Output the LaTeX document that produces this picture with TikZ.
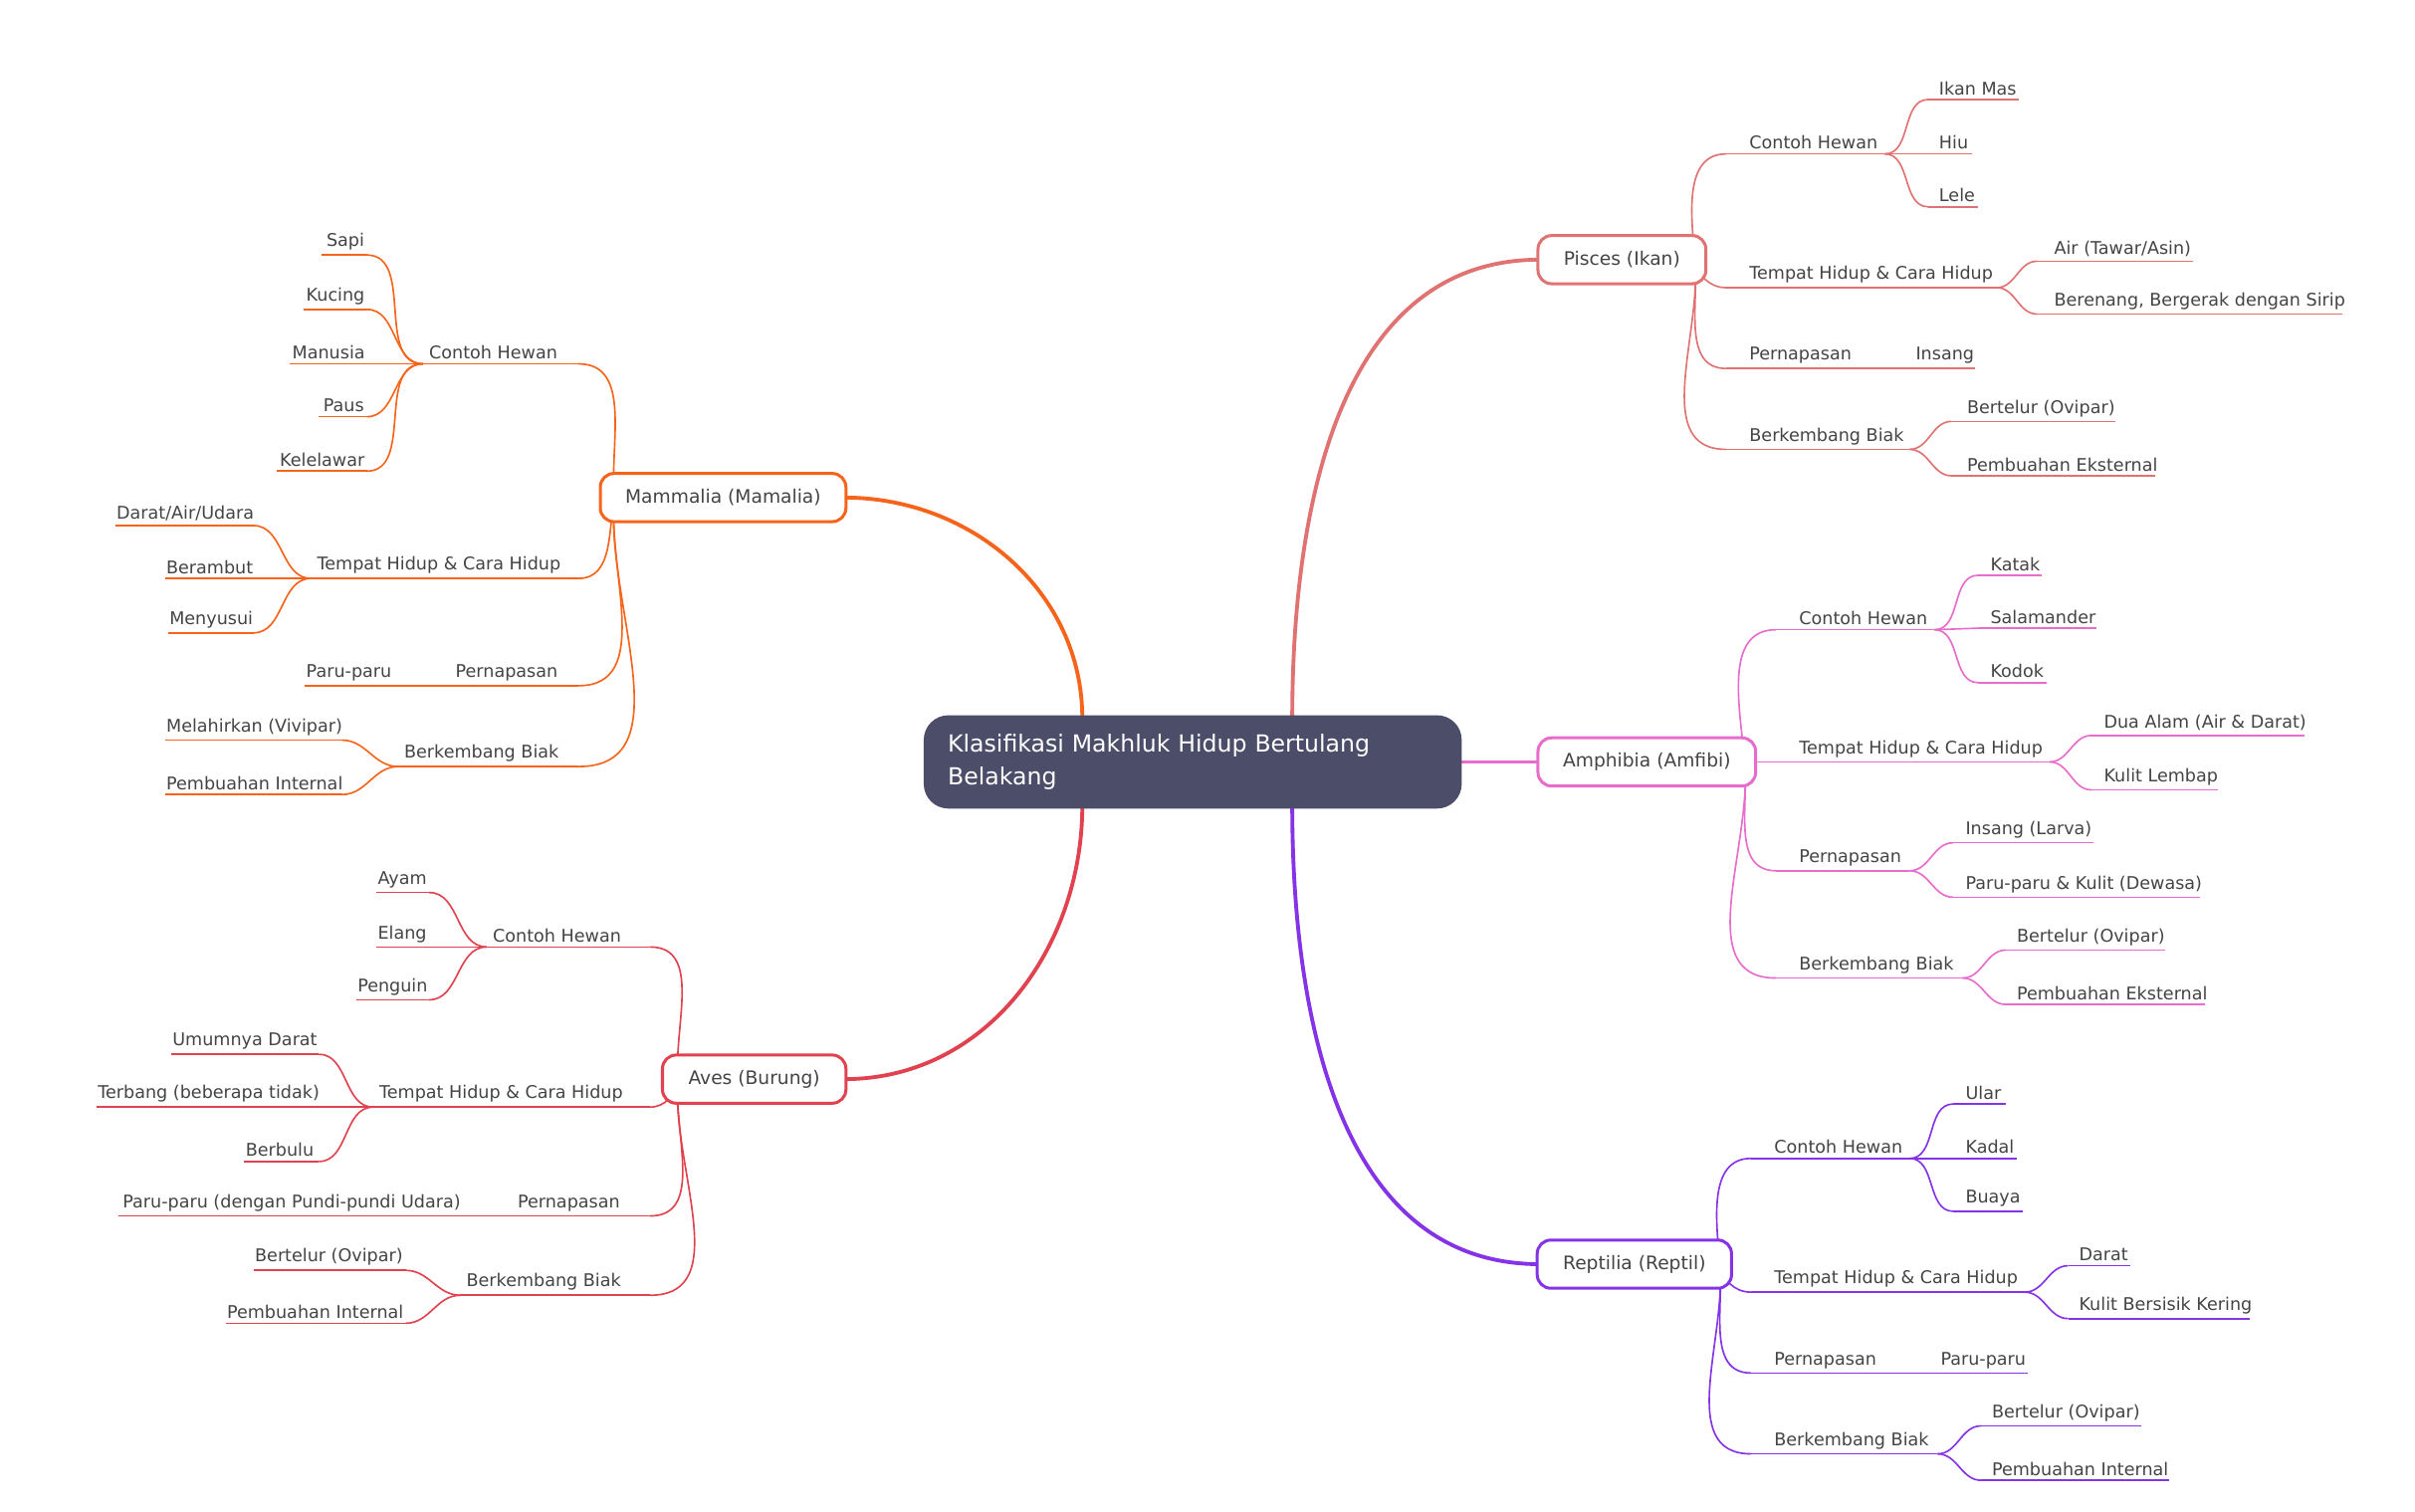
\documentclass[tikz,border=0pt]{standalone}
\usepackage{fontspec}
\setmainfont{DejaVu Sans}
\usetikzlibrary{positioning}
\definecolor{cpis}{HTML}{E07272}
\definecolor{camp}{HTML}{E86CCB}
\definecolor{crep}{HTML}{8533E6}
\definecolor{cmam}{HTML}{F5641A}
\definecolor{caves}{HTML}{E0434F}
\definecolor{cmain}{HTML}{4B4D69}
\definecolor{ctext}{HTML}{444444}

\tikzset{
  leaftext/.style={inner sep=1.5pt, text=ctext, font=\fontsize{6.4}{8}\selectfont},
  leafline/.style={line width=0.6pt},
  branch/.style={line width=1.4pt},
  catbox/.style={draw, fill=white, rounded corners=5pt, line width=1.1pt, text=ctext,
    font=\fontsize{6.8}{8}\selectfont, inner sep=0pt},
}
% name, x line start, x line end, y, x text, text, colour
\newcommand{\leaf}[7]{%
  \coordinate (#1-a) at (#2,#4);
  \coordinate (#1-b) at (#3,#4);
  \draw[#7, leafline] (#1-a) -- (#1-b);
  \node[leaftext, anchor=south west] (#1) at (#5,#4) {#6};}

\begin{document}
\begin{tikzpicture}[x=0.02cm, y=-0.02cm]
\useasboundingbox (0,0) rectangle (1553,972);

% main branches
\coordinate (c-ul) at (696,462);
\coordinate (c-ur) at (831,462);
\coordinate (c-ll) at (696,518);
\coordinate (c-lr) at (831,518);
\coordinate (c-r) at (938,490);
\draw[cpis, branch] (c-ur) to[out=90, in=180] (990,167);
\draw[camp, branch] (c-r) -- (990,490);
\draw[crep, branch] (c-lr) to[out=-90, in=180] (990,813);
\draw[cmam, branch] (c-ul) to[out=90, in=0] (543,320);
\draw[caves, branch] (c-ll) to[out=-90, in=0] (543,694);

% Pisces
\coordinate (pis-j) at (1090,167);
\leaf{pis1}{1110}{1212}{99}{1122}{Contoh Hewan}{cpis}
\leaf{pis11}{1240}{1298}{64}{1244}{Ikan Mas}{cpis}
\leaf{pis12}{1240}{1268}{99}{1244}{Hiu}{cpis}
\leaf{pis13}{1240}{1272}{133}{1244}{Lele}{cpis}
\leaf{pis2}{1110}{1284}{185}{1122}{Tempat Hidup \& Cara Hidup}{cpis}
\leaf{pis21}{1310}{1410}{168}{1318}{Air (Tawar/Asin)}{cpis}
\leaf{pis22}{1310}{1506}{202}{1318}{Berenang, Bergerak dengan Sirip}{cpis}
\leaf{pis3}{1110}{1270}{237}{1122}{Pernapasan}{cpis}
\node[leaftext, anchor=south west] (pis31) at (1229,237) {Insang};
\leaf{pis4}{1110}{1228}{289}{1122}{Berkembang Biak}{cpis}
\leaf{pis41}{1255}{1360}{271}{1262}{Bertelur (Ovipar)}{cpis}
\leaf{pis42}{1255}{1386}{306}{1262}{Pembuahan Eksternal}{cpis}
\begin{scope}[cpis, leafline]
\draw (pis-j) to[out=95, in=180] (pis1-a);
\draw (pis-j) to[out=-80, in=180] (pis2-a);
\draw (pis-j) to[out=-85, in=180] (pis3-a);
\draw (pis-j) to[out=-85, in=180] (pis4-a);
\draw (pis1-b) to[out=0, in=180] (pis11-a);
\draw (pis1-b) -- (pis12-a);
\draw (pis1-b) to[out=0, in=180] (pis13-a);
\draw (pis2-b) to[out=0, in=180] (pis21-a);
\draw (pis2-b) to[out=0, in=180] (pis22-a);
\draw (pis4-b) to[out=0, in=180] (pis41-a);
\draw (pis4-b) to[out=0, in=180] (pis42-a);
\end{scope}

% Amphibia
\coordinate (amp-j) at (1122,490);
\leaf{amp1}{1142}{1244}{405}{1154}{Contoh Hewan}{camp}
\leaf{amp11}{1272}{1313}{370}{1277}{Katak}{camp}
\leaf{amp12}{1272}{1348}{404}{1277}{Salamander}{camp}
\leaf{amp13}{1272}{1316}{439}{1277}{Kodok}{camp}
\leaf{amp2}{1142}{1318}{490}{1154}{Tempat Hidup \& Cara Hidup}{camp}
\leaf{amp21}{1345}{1482}{473}{1350}{Dua Alam (Air \& Darat)}{camp}
\leaf{amp22}{1345}{1426}{508}{1350}{Kulit Lembap}{camp}
\leaf{amp3}{1142}{1228}{560}{1154}{Pernapasan}{camp}
\leaf{amp31}{1256}{1346}{542}{1261}{Insang (Larva)}{camp}
\leaf{amp32}{1256}{1415}{577}{1261}{Paru-paru \& Kulit (Dewasa)}{camp}
\leaf{amp4}{1142}{1262}{629}{1154}{Berkembang Biak}{camp}
\leaf{amp41}{1290}{1392}{611}{1294}{Bertelur (Ovipar)}{camp}
\leaf{amp42}{1290}{1418}{646}{1294}{Pembuahan Eksternal}{camp}
\begin{scope}[camp, leafline]
\draw (amp-j) to[out=95, in=180] (amp1-a);
\draw (amp-j) -- (amp2-a);
\draw (amp-j) to[out=-85, in=180] (amp3-a);
\draw (amp-j) to[out=-85, in=180] (amp4-a);
\draw (amp1-b) to[out=0, in=180] (amp11-a);
\draw (amp1-b) -- (amp12-a);
\draw (amp1-b) to[out=0, in=180] (amp13-a);
\draw (amp2-b) to[out=0, in=180] (amp21-a);
\draw (amp2-b) to[out=0, in=180] (amp22-a);
\draw (amp3-b) to[out=0, in=180] (amp31-a);
\draw (amp3-b) to[out=0, in=180] (amp32-a);
\draw (amp4-b) to[out=0, in=180] (amp41-a);
\draw (amp4-b) to[out=0, in=180] (amp42-a);
\end{scope}

% Reptilia
\coordinate (rep-j) at (1106,813);
\leaf{rep1}{1126}{1228}{745}{1138}{Contoh Hewan}{crep}
\leaf{rep11}{1256}{1290}{710}{1261}{Ular}{crep}
\leaf{rep12}{1256}{1297}{745}{1261}{Kadal}{crep}
\leaf{rep13}{1256}{1301}{779}{1261}{Buaya}{crep}
\leaf{rep2}{1126}{1302}{831}{1138}{Tempat Hidup \& Cara Hidup}{crep}
\leaf{rep21}{1330}{1370}{814}{1334}{Darat}{crep}
\leaf{rep22}{1330}{1447}{848}{1334}{Kulit Bersisik Kering}{crep}
\leaf{rep3}{1126}{1304}{883}{1138}{Pernapasan}{crep}
\node[leaftext, anchor=south west] (rep31) at (1245,883) {Paru-paru};
\leaf{rep4}{1126}{1246}{935}{1138}{Berkembang Biak}{crep}
\leaf{rep41}{1274}{1377}{917}{1278}{Bertelur (Ovipar)}{crep}
\leaf{rep42}{1274}{1395}{952}{1278}{Pembuahan Internal}{crep}
\begin{scope}[crep, leafline]
\draw (rep-j) to[out=95, in=180] (rep1-a);
\draw (rep-j) to[out=-80, in=180] (rep2-a);
\draw (rep-j) to[out=-85, in=180] (rep3-a);
\draw (rep-j) to[out=-85, in=180] (rep4-a);
\draw (rep1-b) to[out=0, in=180] (rep11-a);
\draw (rep1-b) -- (rep12-a);
\draw (rep1-b) to[out=0, in=180] (rep13-a);
\draw (rep2-b) to[out=0, in=180] (rep21-a);
\draw (rep2-b) to[out=0, in=180] (rep22-a);
\draw (rep4-b) to[out=0, in=180] (rep41-a);
\draw (rep4-b) to[out=0, in=180] (rep42-a);
\end{scope}

% Mammalia
\coordinate (mam-j) at (395,320);
\leaf{mam1}{272}{372}{234}{273}{Contoh Hewan}{cmam}
\leaf{mam11}{207}{236}{164}{207}{Sapi}{cmam}
\leaf{mam12}{195}{236}{199}{194}{Kucing}{cmam}
\leaf{mam13}{186}{272}{234}{185}{Manusia}{cmam}
\leaf{mam14}{205}{236}{268}{205}{Paus}{cmam}
\leaf{mam15}{178}{236}{303}{177}{Kelelawar}{cmam}
\leaf{mam2}{200}{372}{372}{201}{Tempat Hidup \& Cara Hidup}{cmam}
\leaf{mam21}{74}{163}{338}{72}{Darat/Air/Udara}{cmam}
\leaf{mam22}{106}{163}{372}{104}{Berambut}{cmam}
\leaf{mam23}{108}{163}{407}{106}{Menyusui}{cmam}
\leaf{mam3}{196}{372}{441}{290}{Pernapasan}{cmam}
\node[leaftext, anchor=south west] (mam31) at (194,441) {Paru-paru};
\leaf{mam4}{256}{372}{493}{257}{Berkembang Biak}{cmam}
\leaf{mam41}{106}{220}{476}{104}{Melahirkan (Vivipar)}{cmam}
\leaf{mam42}{106}{220}{511}{104}{Pembuahan Internal}{cmam}
\begin{scope}[cmam, leafline]
\draw (mam-j) to[out=95, in=0] (mam1-b);
\draw (mam-j) to[out=-100, in=0] (mam2-b);
\draw (mam-j) to[out=-95, in=0] (mam3-b);
\draw (mam-j) to[out=-95, in=0] (mam4-b);
\draw (mam1-a) to[out=180, in=0] (mam11-b);
\draw (mam1-a) to[out=180, in=0] (mam12-b);
\draw (mam1-a) to[out=180, in=0] (mam14-b);
\draw (mam1-a) to[out=180, in=0] (mam15-b);
\draw (mam2-a) to[out=180, in=0] (mam21-b);
\draw (mam2-a) -- (mam22-b);
\draw (mam2-a) to[out=180, in=0] (mam23-b);
\draw (mam4-a) to[out=180, in=0] (mam41-b);
\draw (mam4-a) to[out=180, in=0] (mam42-b);
\end{scope}

% Aves
\coordinate (ave-j) at (436,694);
\leaf{ave1}{313}{418}{609}{314}{Contoh Hewan}{caves}
\leaf{ave11}{242}{276}{574}{240}{Ayam}{caves}
\leaf{ave12}{242}{313}{609}{240}{Elang}{caves}
\leaf{ave13}{229}{276}{643}{227}{Penguin}{caves}
\leaf{ave2}{240}{418}{712}{241}{Tempat Hidup \& Cara Hidup}{caves}
\leaf{ave21}{110}{205}{678}{108}{Umumnya Darat}{caves}
\leaf{ave22}{62}{240}{712}{60}{Terbang (beberapa tidak)}{caves}
\leaf{ave23}{157}{205}{747}{155}{Berbulu}{caves}
\leaf{ave3}{76}{418}{782}{330}{Pernapasan}{caves}
\node[leaftext, anchor=south west] (ave31) at (76,782) {Paru-paru (dengan Pundi-pundi Udara)};
\leaf{ave4}{296}{418}{833}{297}{Berkembang Biak}{caves}
\leaf{ave41}{163}{261}{817}{161}{Bertelur (Ovipar)}{caves}
\leaf{ave42}{145}{261}{851}{143}{Pembuahan Internal}{caves}
\begin{scope}[caves, leafline]
\draw (ave-j) to[out=95, in=0] (ave1-b);
\draw (ave-j) to[out=-100, in=0] (ave2-b);
\draw (ave-j) to[out=-95, in=0] (ave3-b);
\draw (ave-j) to[out=-95, in=0] (ave4-b);
\draw (ave1-a) to[out=180, in=0] (ave11-b);
\draw (ave1-a) to[out=180, in=0] (ave13-b);
\draw (ave2-a) to[out=180, in=0] (ave21-b);
\draw (ave2-a) to[out=180, in=0] (ave23-b);
\draw (ave4-a) to[out=180, in=0] (ave41-b);
\draw (ave4-a) to[out=180, in=0] (ave42-b);
\end{scope}

% category boxes
\node[catbox, draw=cpis, minimum width=2.16cm, minimum height=0.62cm] (pis) at (1043,167) {Pisces (Ikan)};
\node[catbox, draw=camp, minimum width=2.8cm, minimum height=0.62cm] (amp) at (1059,490) {Amphibia (Amfibi)};
\node[catbox, draw=crep, minimum width=2.5cm, minimum height=0.62cm] (rep) at (1051,813) {Reptilia (Reptil)};
\node[catbox, draw=cmam, minimum width=3.16cm, minimum height=0.62cm] (mam) at (465,320) {Mammalia (Mamalia)};
\node[catbox, draw=caves, minimum width=2.36cm, minimum height=0.62cm] (ave) at (485,694) {Aves (Burung)};

% central topic
\node[fill=cmain, rounded corners=9pt, minimum width=6.92cm, minimum height=1.2cm, text=white,
  align=left, text width=6.3cm, inner sep=0pt, font=\fontsize{8.6}{12}\selectfont] (root) at (767,490)
  {Klasifikasi Makhluk Hidup Bertulang\\Belakang};
\end{tikzpicture}
\end{document}
